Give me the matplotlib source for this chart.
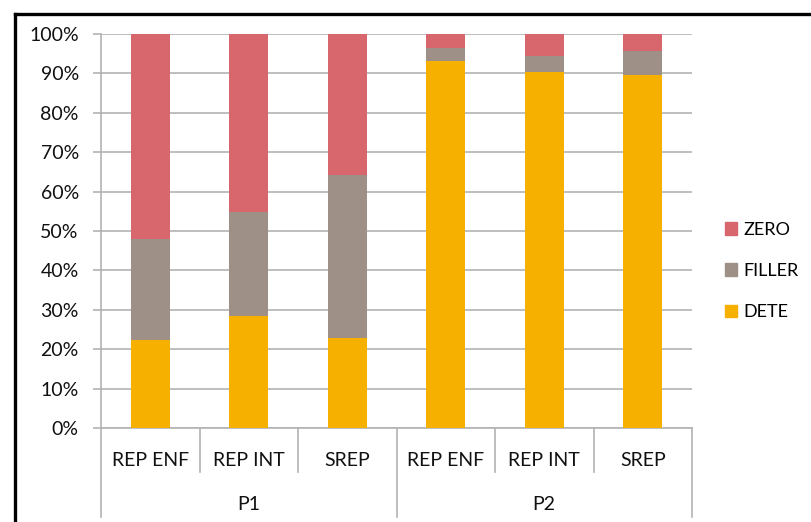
import matplotlib
matplotlib.use("Agg")
import matplotlib.pyplot as plt
from matplotlib.lines import Line2D
from matplotlib.patches import Patch
import numpy as np

categories = ["REP ENF", "REP INT", "SREP", "REP ENF", "REP INT", "SREP"]
groups = ["P1", "P2"]
dete = [22.4, 28.4, 22.8, 93.1, 90.3, 89.5]
filler = [25.5, 26.5, 41.3, 3.4, 4.1, 6.3]
zero = [52.1, 45.1, 35.9, 3.5, 5.6, 4.2]
yticks = [0, 10, 20, 30, 40, 50, 60, 70, 80, 90, 100]

c_zero = "#D7666D"
c_filler = "#9F9087"
c_dete = "#F6B000"
grid_c = "#B3B3B3"
txt_c = "#111111"
fs = 14

plt.rcParams["font.family"] = ["Lato", "DejaVu Sans"]

W, H = 811, 522
fig = plt.figure(figsize=(W / 100, H / 100), dpi=100)
ax = fig.add_axes([101 / W, (H - 428) / H, (692 - 101) / W, (428 - 34) / H])

x = np.arange(len(categories))
d = np.array(dete)
f = np.array(filler)
z = np.array(zero)
ax.bar(x, d, width=0.4, color=c_dete, zorder=3, label="DETE")
ax.bar(x, f, width=0.4, bottom=d, color=c_filler, zorder=3, label="FILLER")
ax.bar(x, z, width=0.4, bottom=d + f, color=c_zero, zorder=3, label="ZERO")

ax.set_xlim(-0.5, len(categories) - 0.5)
ax.set_ylim(0, 100)
ax.set_yticks(yticks)
ax.set_yticklabels([f"{v}%" for v in yticks], fontsize=fs, color=txt_c)
ax.yaxis.grid(True, color=grid_c, lw=1.2, zorder=0)
ax.tick_params(axis="y", length=6, color=grid_c, width=1.2, pad=10)
ax.set_xticks([])
for s in ["top", "right"]:
    ax.spines[s].set_visible(False)
ax.spines["left"].set_color(grid_c)
ax.spines["left"].set_linewidth(1.2)
ax.spines["bottom"].set_color(grid_c)
ax.spines["bottom"].set_linewidth(1.2)

trans = ax.get_xaxis_transform()
px = 1 / 394.0
# category labels and separators
for i, c in enumerate(categories):
    ax.text(i, -32 * px, c, transform=trans, ha="center", va="center", fontsize=fs, color=txt_c)
for b in np.arange(-0.5, len(categories), 1.0):
    end = -89 * px if (b in (-0.5, 2.5, 5.5)) else -44 * px
    ax.add_line(Line2D([b, b], [0, end], transform=trans, color=grid_c, lw=1.2, clip_on=False))
for gi, g in enumerate(groups):
    ax.text(gi * 3 + 1, -76 * px, g, transform=trans, ha="center", va="center", fontsize=fs, color=txt_c)

# legend
handles = [Patch(color=c_zero, label="ZERO"), Patch(color=c_filler, label="FILLER"), Patch(color=c_dete, label="DETE")]
fig.legend(handles=handles, loc="center left", bbox_to_anchor=(712 / W, 1 - 271 / H), frameon=False,
           fontsize=13, handlelength=0.7, handleheight=0.7, handletextpad=0.35, labelspacing=1.4,
           borderpad=0.2)

# outer frame
fig.add_artist(Line2D([15 / W, 1.0], [1 - 14 / H, 1 - 14 / H], transform=fig.transFigure, color="black", lw=2.4))
fig.add_artist(Line2D([15 / W, 15 / W], [0, 1 - 14 / H], transform=fig.transFigure, color="black", lw=2.4))

fig.savefig("out.png", dpi=100)
